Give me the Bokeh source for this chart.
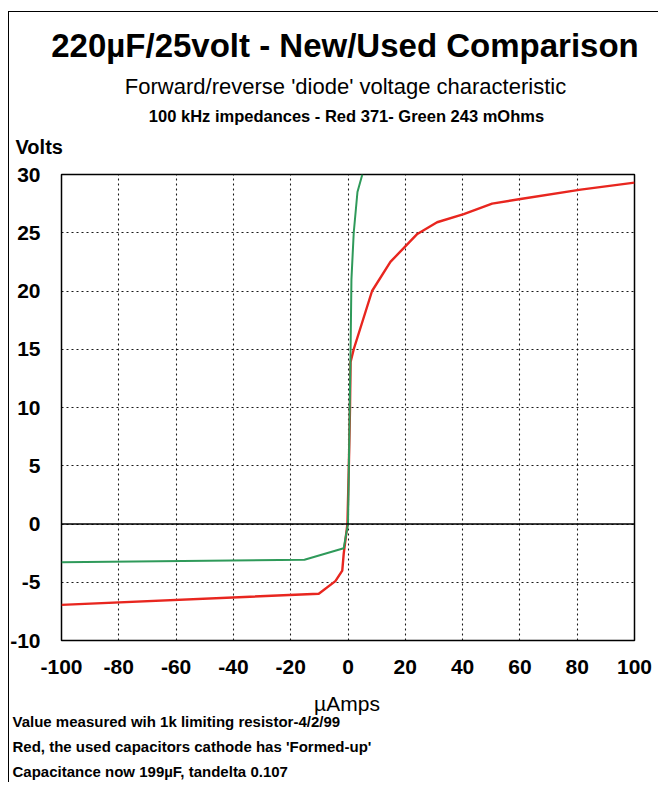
from bokeh.plotting import figure
from bokeh.models import Label, Span, FixedTicker
from bokeh.embed import file_html
from bokeh.resources import INLINE

# ---- data ----
red_current = [-100, -10.2, -4.4, -2.0, -1.5, -0.2, 0.3, 0.7, 0.9, 2.0, 8.4, 14.8, 24.2, 31.1, 40.4, 50.3, 60.2, 81.2, 100]
red_volts = [-6.94, -5.99, -4.9, -4.0, -2.56, 0.0, 5.0, 10.0, 13.9, 15.0, 20.0, 22.5, 24.9, 25.9, 26.6, 27.5, 27.9, 28.7, 29.3]

green_current = [-100, -15.2, -1.5, 0.0, 0.3, 0.6, 0.9, 1.2, 2.0, 3.3, 5.0]
green_volts = [-3.28, -3.07, -2.08, 0.0, 5.0, 10.0, 15.0, 21.0, 25.0, 28.5, 30.0]

x_ticks = [-100, -80, -60, -40, -20, 0, 20, 40, 60, 80, 100]
y_ticks = [-10, -5, 0, 5, 10, 15, 20, 25, 30]

title = "220µF/25volt - New/Used Comparison"
subtitle = "Forward/reverse 'diode' voltage characteristic"
subtitle2 = "100 kHz impedances - Red 371- Green 243 mOhms"
y_label = "Volts"
x_label = "µAmps"
notes = ["Value measured wih 1k limiting resistor-4/2/99",
         "Red, the used capacitors cathode has 'Formed-up'",
         "Capacitance now 199µF, tandelta 0.107"]

# ---- layout (canvas pixels) ----
FL, FR, FT, FB = 61, 634, 174, 640
XMIN, XMAX, YMIN, YMAX = -100, 100, -10, 30
W, H = 658, 782

p = figure(width=W, height=H, x_range=(XMIN, XMAX), y_range=(YMIN, YMAX),
           output_backend="svg", toolbar_location=None,
           min_border_left=FL, min_border_right=W - FR,
           min_border_top=FT, min_border_bottom=H - FB)
p.background_fill_color = "white"
p.border_fill_color = None
# thin left/top border line around the whole picture (page background behind the canvas)
p.styles = {
    "background": "linear-gradient(#000, #000) 8px 11px / 1px 2000px no-repeat, "
                  "linear-gradient(#000, #000) 8px 11px / 2000px 1px no-repeat, #fff",
}
p.outline_line_color = "black"
p.outline_line_width = 1.5

FONT = "Liberation Sans"
for ax in (p.xaxis[0], p.yaxis[0]):
    ax.axis_line_color = None
    ax.major_tick_line_color = None
    ax.minor_tick_line_color = None
    ax.major_label_text_font = FONT
    ax.major_label_text_font_style = "bold"
    ax.major_label_text_font_size = "21px"
    ax.major_label_text_color = "black"

p.xaxis.ticker = FixedTicker(ticks=x_ticks)
p.yaxis.ticker = FixedTicker(ticks=y_ticks)
p.xaxis.major_label_overrides = {t: str(t) for t in x_ticks}
p.yaxis.major_label_overrides = {t: str(t) for t in y_ticks}
p.xaxis.major_label_standoff = 13
p.yaxis.major_label_standoff = 15

for g in (p.xgrid[0], p.ygrid[0]):
    g.grid_line_color = "black"
    g.grid_line_dash = "2 3"
    g.grid_line_width = 1.1
    g.grid_line_alpha = 0.9

p.add_layout(Span(location=0, dimension="width", line_color="black", line_width=1.5))

p.line(red_current, red_volts, line_color="#e8261f", line_width=2.4)
p.line(green_current, green_volts, line_color="#2f9a5a", line_width=2)


def lab(text, px, py, size, style="normal", align="center", baseline="alphabetic", side="above"):
    p.add_layout(Label(x=px, y=py, x_units="canvas", y_units="canvas",
                       text=text, text_font=FONT,
                       text_font_size=size, text_font_style=style,
                       text_align=align, text_baseline=baseline, text_color="black"), side)


lab(title, 344.5, 45, "33px", "bold")
lab(subtitle, 345, 86, "22px")
lab(subtitle2, 346, 115, "16.5px", "bold")
lab(y_label, 15, 146, "20px", "bold", align="left")
lab(x_label, 346.5, 703, "21px", side="below")
for i, t in enumerate(notes):
    lab(t, 12, 721 + 25 * i, "15px", "bold", align="left", baseline="middle", side="below")

open("out.html", "w").write(file_html(p, INLINE))
